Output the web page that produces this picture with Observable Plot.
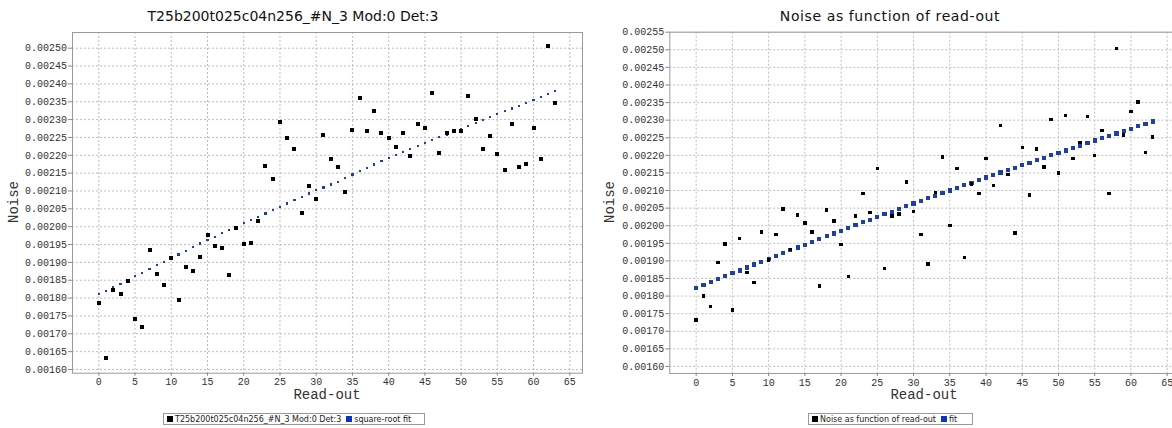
<!DOCTYPE html>
<html><head><meta charset="utf-8">
<script src="https://cdn.jsdelivr.net/npm/d3@7"></script>
<script src="https://cdn.jsdelivr.net/npm/@observablehq/plot@0.6"></script>
<style>
body{margin:0;background:#fff;}
#root{position:relative;width:1172px;height:428px;overflow:hidden;background:#fff;}
.panel{position:absolute;top:0;}
.title{position:absolute;top:8px;line-height:16px;font-family:"DejaVu Sans",sans-serif;font-size:14px;color:#111;white-space:nowrap;transform:translateX(-50%);}
.xlabel{position:absolute;top:388px;line-height:14px;font-family:"Liberation Mono",monospace;font-size:14px;color:#333;white-space:nowrap;transform:translateX(-50%);}
.ylabel{position:absolute;line-height:14px;font-family:"Liberation Mono",monospace;font-size:14px;color:#333;white-space:nowrap;transform:translate(-50%,-50%) rotate(-90deg);}
.legend{position:absolute;top:413px;height:12px;box-sizing:border-box;border:1px solid #999;font-family:"DejaVu Sans",sans-serif;font-size:8px;color:#222;display:flex;align-items:center;padding:0 3px;white-space:nowrap;}
.sw{display:inline-block;width:6px;height:6px;margin-right:2px;}
</style>
</head><body>
<div id="root"></div>
<script>
// read-out index (categories on x)
const readOut = [0,1,2,3,4,5,6,7,8,9,10,11,12,13,14,15,16,17,18,19,20,21,22,23,24,25,26,27,28,29,30,31,32,33,34,35,36,37,38,39,40,41,42,43,44,45,46,47,48,49,50,51,52,53,54,55,56,57,58,59,60,61,62,63];

// left chart: measured noise
const leftNoise = [0.001787,0.001633,0.001824,0.001812,0.001849,0.001741,0.001720,0.001935,0.001867,0.001838,
  0.001912,0.001796,0.001888,0.001876,0.001915,0.001976,0.001945,0.001940,0.001864,0.001995,
  0.001952,0.001955,0.002017,0.002170,0.002135,0.002294,0.002248,0.002217,0.002037,0.002113,
  0.002077,0.002257,0.002189,0.002168,0.002096,0.002272,0.002360,0.002268,0.002325,0.002263,
  0.002248,0.002223,0.002263,0.002199,0.002288,0.002277,0.002374,0.002206,0.002262,0.002268,
  0.002268,0.002367,0.002302,0.002218,0.002253,0.002203,0.002158,0.002288,0.002166,0.002175,
  0.002277,0.002189,0.002505,0.002346];
// left chart: square-root fit
const leftFit = [0.001811,0.001820,0.001830,0.001840,0.001850,0.001861,0.001871,0.001881,0.001892,0.001902,
  0.001912,0.001922,0.001932,0.001943,0.001953,0.001963,0.001972,0.001982,0.001991,0.002000,
  0.002010,0.002019,0.002028,0.002037,0.002046,0.002055,0.002065,0.002074,0.002084,0.002093,
  0.002103,0.002110,0.002118,0.002126,0.002136,0.002146,0.002155,0.002164,0.002174,0.002183,
  0.002192,0.002201,0.002209,0.002218,0.002227,0.002235,0.002243,0.002251,0.002258,0.002266,
  0.002274,0.002282,0.002291,0.002299,0.002308,0.002316,0.002324,0.002331,0.002339,0.002346,
  0.002354,0.002363,0.002372,0.002381];

// right chart: measured noise
const rightNoise = [0.001732,0.001800,0.001770,0.001896,0.001948,0.001761,0.001963,0.001867,0.001839,0.001982,
  0.001903,0.001975,0.002047,0.001932,0.002030,0.002008,0.001982,0.001828,0.002045,0.002013,
  0.001947,0.001855,0.002028,0.002091,0.002038,0.002163,0.001878,0.002028,0.002034,0.002124,
  0.002040,0.001975,0.001891,0.002094,0.002196,0.002001,0.002163,0.001910,0.002118,0.002091,
  0.002191,0.002114,0.002285,0.002145,0.001980,0.002222,0.002088,0.002218,0.002167,0.002302,
  0.002150,0.002313,0.002191,0.002236,0.002311,0.002200,0.002270,0.002092,0.002504,0.002258,
  0.002324,0.002352,0.002208,0.002252];
// right chart: fit
const rightFit = [0.001822,0.001831,0.001839,0.001848,0.001856,0.001865,0.001873,0.001881,0.001890,0.001898,
  0.001906,0.001914,0.001922,0.001930,0.001938,0.001946,0.001954,0.001962,0.001970,0.001978,
  0.001986,0.001994,0.002002,0.002010,0.002017,0.002025,0.002033,0.002040,0.002048,0.002056,
  0.002063,0.002070,0.002078,0.002085,0.002093,0.002100,0.002107,0.002115,0.002122,0.002130,
  0.002137,0.002144,0.002151,0.002158,0.002165,0.002172,0.002179,0.002186,0.002193,0.002200,
  0.002207,0.002214,0.002221,0.002228,0.002235,0.002242,0.002249,0.002256,0.002262,0.002269,
  0.002276,0.002283,0.002289,0.002296];

// tick labels
const xTicks = [0,5,10,15,20,25,30,35,40,45,50,55,60,65];
const leftYTicks = [0.00160,0.00165,0.00170,0.00175,0.00180,0.00185,0.00190,0.00195,0.00200,0.00205,0.00210,0.00215,0.00220,0.00225,0.00230,0.00235,0.00240,0.00245,0.00250];
const rightYTicks = [0.00160,0.00165,0.00170,0.00175,0.00180,0.00185,0.00190,0.00195,0.00200,0.00205,0.00210,0.00215,0.00220,0.00225,0.00230,0.00235,0.00240,0.00245,0.00250,0.00255];

// texts
const leftTitle = "T25b200t025c04n256_#N_3 Mod:0 Det:3";
const rightTitle = "Noise as function of read-out";
const xLabel = "Read-out";
const yLabel = "Noise";
const leftLegend = ["T25b200t025c04n256_#N_3 Mod:0 Det:3", "square-root fit"];
const rightLegend = ["Noise as function of read-out", "fit"];

const fitBlue = "#1f3fa8";

function panel(o) {
  const pts = o.noise.map((v, i) => ({x: readOut[i], y: v}));
  const fit = o.fit.map((v, i) => ({x: readOut[i], y: v}));
  return Plot.plot({
    width: o.width, height: 428,
    marginLeft: o.ml, marginRight: o.mr, marginTop: o.mt, marginBottom: o.mb,
    style: {fontFamily: "'Liberation Mono', monospace", fontSize: "10px", color: "#333", background: "transparent", overflow: "visible"},
    x: {domain: o.xDomain},
    y: {domain: o.yDomain},
    marks: [
      Plot.gridX(xTicks, {stroke: "#bdbdbd", strokeOpacity: 1, strokeDasharray: "2,2"}),
      Plot.gridY(o.yTicks, {stroke: "#bdbdbd", strokeOpacity: 1, strokeDasharray: "2,2"}),
      Plot.frame({stroke: "#9a9a9a"}),
      Plot.axisY(o.yTicks, {tickFormat: d3.format(".5f"), tickSize: 4, tickPadding: 1.5, stroke: "#888", fill: "#333", label: null}),
      Plot.axisX(xTicks, {tickSize: 3, tickPadding: 2, stroke: "#888", fill: "#333", label: null}),
      Plot.dot(fit, {x: "x", y: "y", symbol: "square", r: o.fitSide / Math.sqrt(Math.PI), fill: fitBlue, shapeRendering: "crispEdges"}),
      Plot.dot(pts, {x: "x", y: "y", symbol: "square", r: o.ptSide / Math.sqrt(Math.PI), fill: "#000", shapeRendering: "crispEdges"})
    ]
  });
}

const root = document.getElementById("root");

const left = panel({width: 590, ml: 72, mr: 8, mt: 32, mb: 55.3,
  xDomain: [-3.63, 66.75], yDomain: [0.0015896, 0.002544], yTicks: leftYTicks,
  noise: leftNoise, fit: leftFit, ptSide: 4, fitSide: 2.2});
left.classList.add("panel"); left.style.left = "0px";
root.appendChild(left);

const right = panel({width: 600, ml: 79.3, mr: 11, mt: 31.7, mb: 55,
  xDomain: [-3.64, 66.7], yDomain: [0.00158, 0.00255], yTicks: rightYTicks,
  noise: rightNoise, fit: rightFit, ptSide: 3.5, fitSide: 4.2});
right.classList.add("panel"); right.style.left = "590px";
root.appendChild(right);

function addDiv(cls, text, css) {
  const d = document.createElement("div");
  d.className = cls; d.textContent = text;
  Object.assign(d.style, css);
  root.appendChild(d);
  return d;
}
addDiv("title", leftTitle, {left: "293px"});
addDiv("title", rightTitle, {left: "890px", letterSpacing: "0.6px"});
addDiv("xlabel", xLabel, {left: "327px"});
addDiv("xlabel", xLabel, {left: "924px"});
addDiv("ylabel", yLabel, {left: "14px", top: "202px"});
addDiv("ylabel", yLabel, {left: "610px", top: "202px"});

function legend(x, w, labels) {
  const d = document.createElement("div");
  d.className = "legend";
  d.style.left = x + "px"; d.style.width = w + "px";
  const s1 = document.createElement("span"); s1.className = "sw"; s1.style.background = "#000";
  const t1 = document.createElement("span"); t1.textContent = labels[0];
  const s2 = document.createElement("span"); s2.className = "sw"; s2.style.background = "#0a35c0"; s2.style.marginLeft = "5px";
  const t2 = document.createElement("span"); t2.textContent = labels[1];
  d.append(s1, t1, s2, t2);
  root.appendChild(d);
}
legend(163, 262, leftLegend);
legend(808, 165, rightLegend);
</script>
</body></html>
